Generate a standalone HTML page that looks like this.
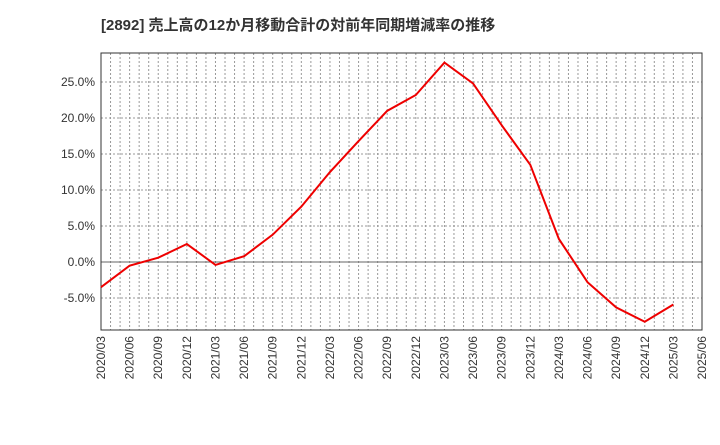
<!DOCTYPE html>
<html><head><meta charset="utf-8"><style>
body{margin:0;background:#fff;width:720px;height:440px;overflow:hidden}
svg{font-family:"Liberation Sans","Noto Sans CJK JP",sans-serif}
</style></head><body>
<svg id="chart" width="720" height="440">
<text x="101" y="30" font-size="15" font-weight="bold" fill="#333">[2892]  売上高の12か月移動合計の対前年同期増減率の推移</text>
<g id="grid"></g><g id="axes"></g><g id="series"></g>
</svg>
<script>
const categories=["2020/03","2020/06","2020/09","2020/12","2021/03","2021/06","2021/09","2021/12","2022/03","2022/06","2022/09","2022/12","2023/03","2023/06","2023/09","2023/12","2024/03","2024/06","2024/09","2024/12","2025/03","2025/06"];
const values=[-3.5,-0.5,0.6,2.5,-0.4,0.8,3.8,7.7,12.5,16.8,21.0,23.2,27.7,24.8,19.0,13.5,3.2,-2.8,-6.3,-8.3,-5.9];
const yTicks=[-5,0,5,10,15,20,25];
const L=101,R=702,T=53,B=330,yMin=-9.44,yMax=29.03;
const NS="http://www.w3.org/2000/svg";
const x=i=>L+(R-L)*i/(categories.length-1);
const y=v=>B-(v-yMin)/(yMax-yMin)*(B-T);
function mk(t,a,p){const e=document.createElementNS(NS,t);for(const k in a)e.setAttribute(k,a[k]);p.appendChild(e);return e;}
const grid=document.getElementById('grid'),axes=document.getElementById('axes'),ser=document.getElementById('series');
const nm=(categories.length-1)*3;
for(let m=1;m<nm;m++){const xx=L+(R-L)*m/nm;
const g=mk('line',{x1:xx,x2:xx,y1:T,y2:B,stroke:'#999','stroke-width':1,'stroke-dasharray':'2,2'},grid);

}
yTicks.forEach(v=>{const yy=y(v);
const g=mk('line',{x1:L,x2:R,y1:yy,y2:yy,stroke:v===0?'#666':'#999','stroke-width':1,'stroke-dasharray':v===0?'':'2,2'},grid);


const t=mk('text',{x:L-6,y:yy+4,'font-size':12,'text-anchor':'end',fill:'#333'},axes);t.textContent=v.toFixed(1)+'%';

});
const fr=mk('rect',{x:L,y:T,width:R-L,height:B-T,fill:'none',stroke:'#333','stroke-width':1},axes);


categories.forEach((c,i)=>{const xx=x(i);
const t=mk('text',{x:0,y:0,'font-size':12,'text-anchor':'end',fill:'#333',transform:`translate(${xx+4},${B+6}) rotate(-90)`},axes);t.textContent=c;

});
const p=mk('polyline',{points:values.map((v,i)=>x(i)+','+y(v)).join(' '),fill:'none',stroke:'#e00','stroke-width':2},ser);


</script>
</body></html>
